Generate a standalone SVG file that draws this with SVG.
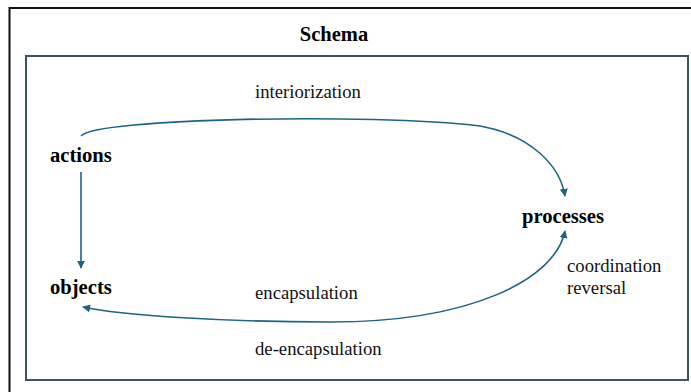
<svg xmlns="http://www.w3.org/2000/svg" width="691" height="392" viewBox="0 0 691 392">
  <style>
    .frame { fill: none; stroke: #111; stroke-width: 2; }
    .panel { fill: none; stroke: #3b5563; stroke-width: 2; }
    .node { font-family: "Liberation Serif", "Times New Roman", "DejaVu Serif", serif; font-weight: bold; font-size: 20.6px; fill: #000; }
    .title { font-family: "Liberation Serif", "Times New Roman", "DejaVu Serif", serif; font-weight: bold; font-size: 20.5px; fill: #000; }
    .label { font-family: "Liberation Serif", "Times New Roman", "DejaVu Serif", serif; font-weight: normal; font-size: 18.7px; fill: #111; }
    .edge { fill: none; stroke: #1f6383; stroke-width: 1.6; }
  </style>
  <defs>
    <marker id="arrow" viewBox="0 0 10 10" refX="9" refY="5" markerWidth="5" markerHeight="5" orient="auto-start-reverse" markerUnits="strokeWidth">
      <path d="M0,0 L10,5 L0,10 z" fill="#1f6383"/>
    </marker>
  </defs>

  <rect width="691" height="392" fill="#fff"/>

  <!-- outer frame and inner panel -->
  <rect class="frame" x="9.5" y="8" width="700" height="400"/>
  <rect class="panel" x="26" y="56" width="662" height="324"/>
  <text class="title" x="334" y="41" text-anchor="middle">Schema</text>

  <g id="connectors">
    <path class="edge" d="M81,136 C95,118 370,113 480,126 C530,135 560,165 565,196" marker-end="url(#arrow)"/>
    <path class="edge" d="M81,172 L81,268" marker-end="url(#arrow)"/>
    <path class="edge" d="M565,231 C555,280 470,322 330,322 C220,322 120,315 83,307" marker-start="url(#arrow)" marker-end="url(#arrow)"/>
  </g>

  <g id="actions"><text class="node" x="50" y="162">actions</text></g>
  <g id="objects"><text class="node" x="50" y="294">objects</text></g>
  <g id="processes"><text class="node" x="522" y="223">processes</text></g>

  <g id="labels">
    <text class="label" x="255" y="98">interiorization</text>
    <text class="label" x="255" y="299">encapsulation</text>
    <text class="label" x="255" y="355">de-encapsulation</text>
    <text class="label" x="567" y="272">coordination</text>
    <text class="label" x="567" y="294">reversal</text>
  </g>
</svg>
